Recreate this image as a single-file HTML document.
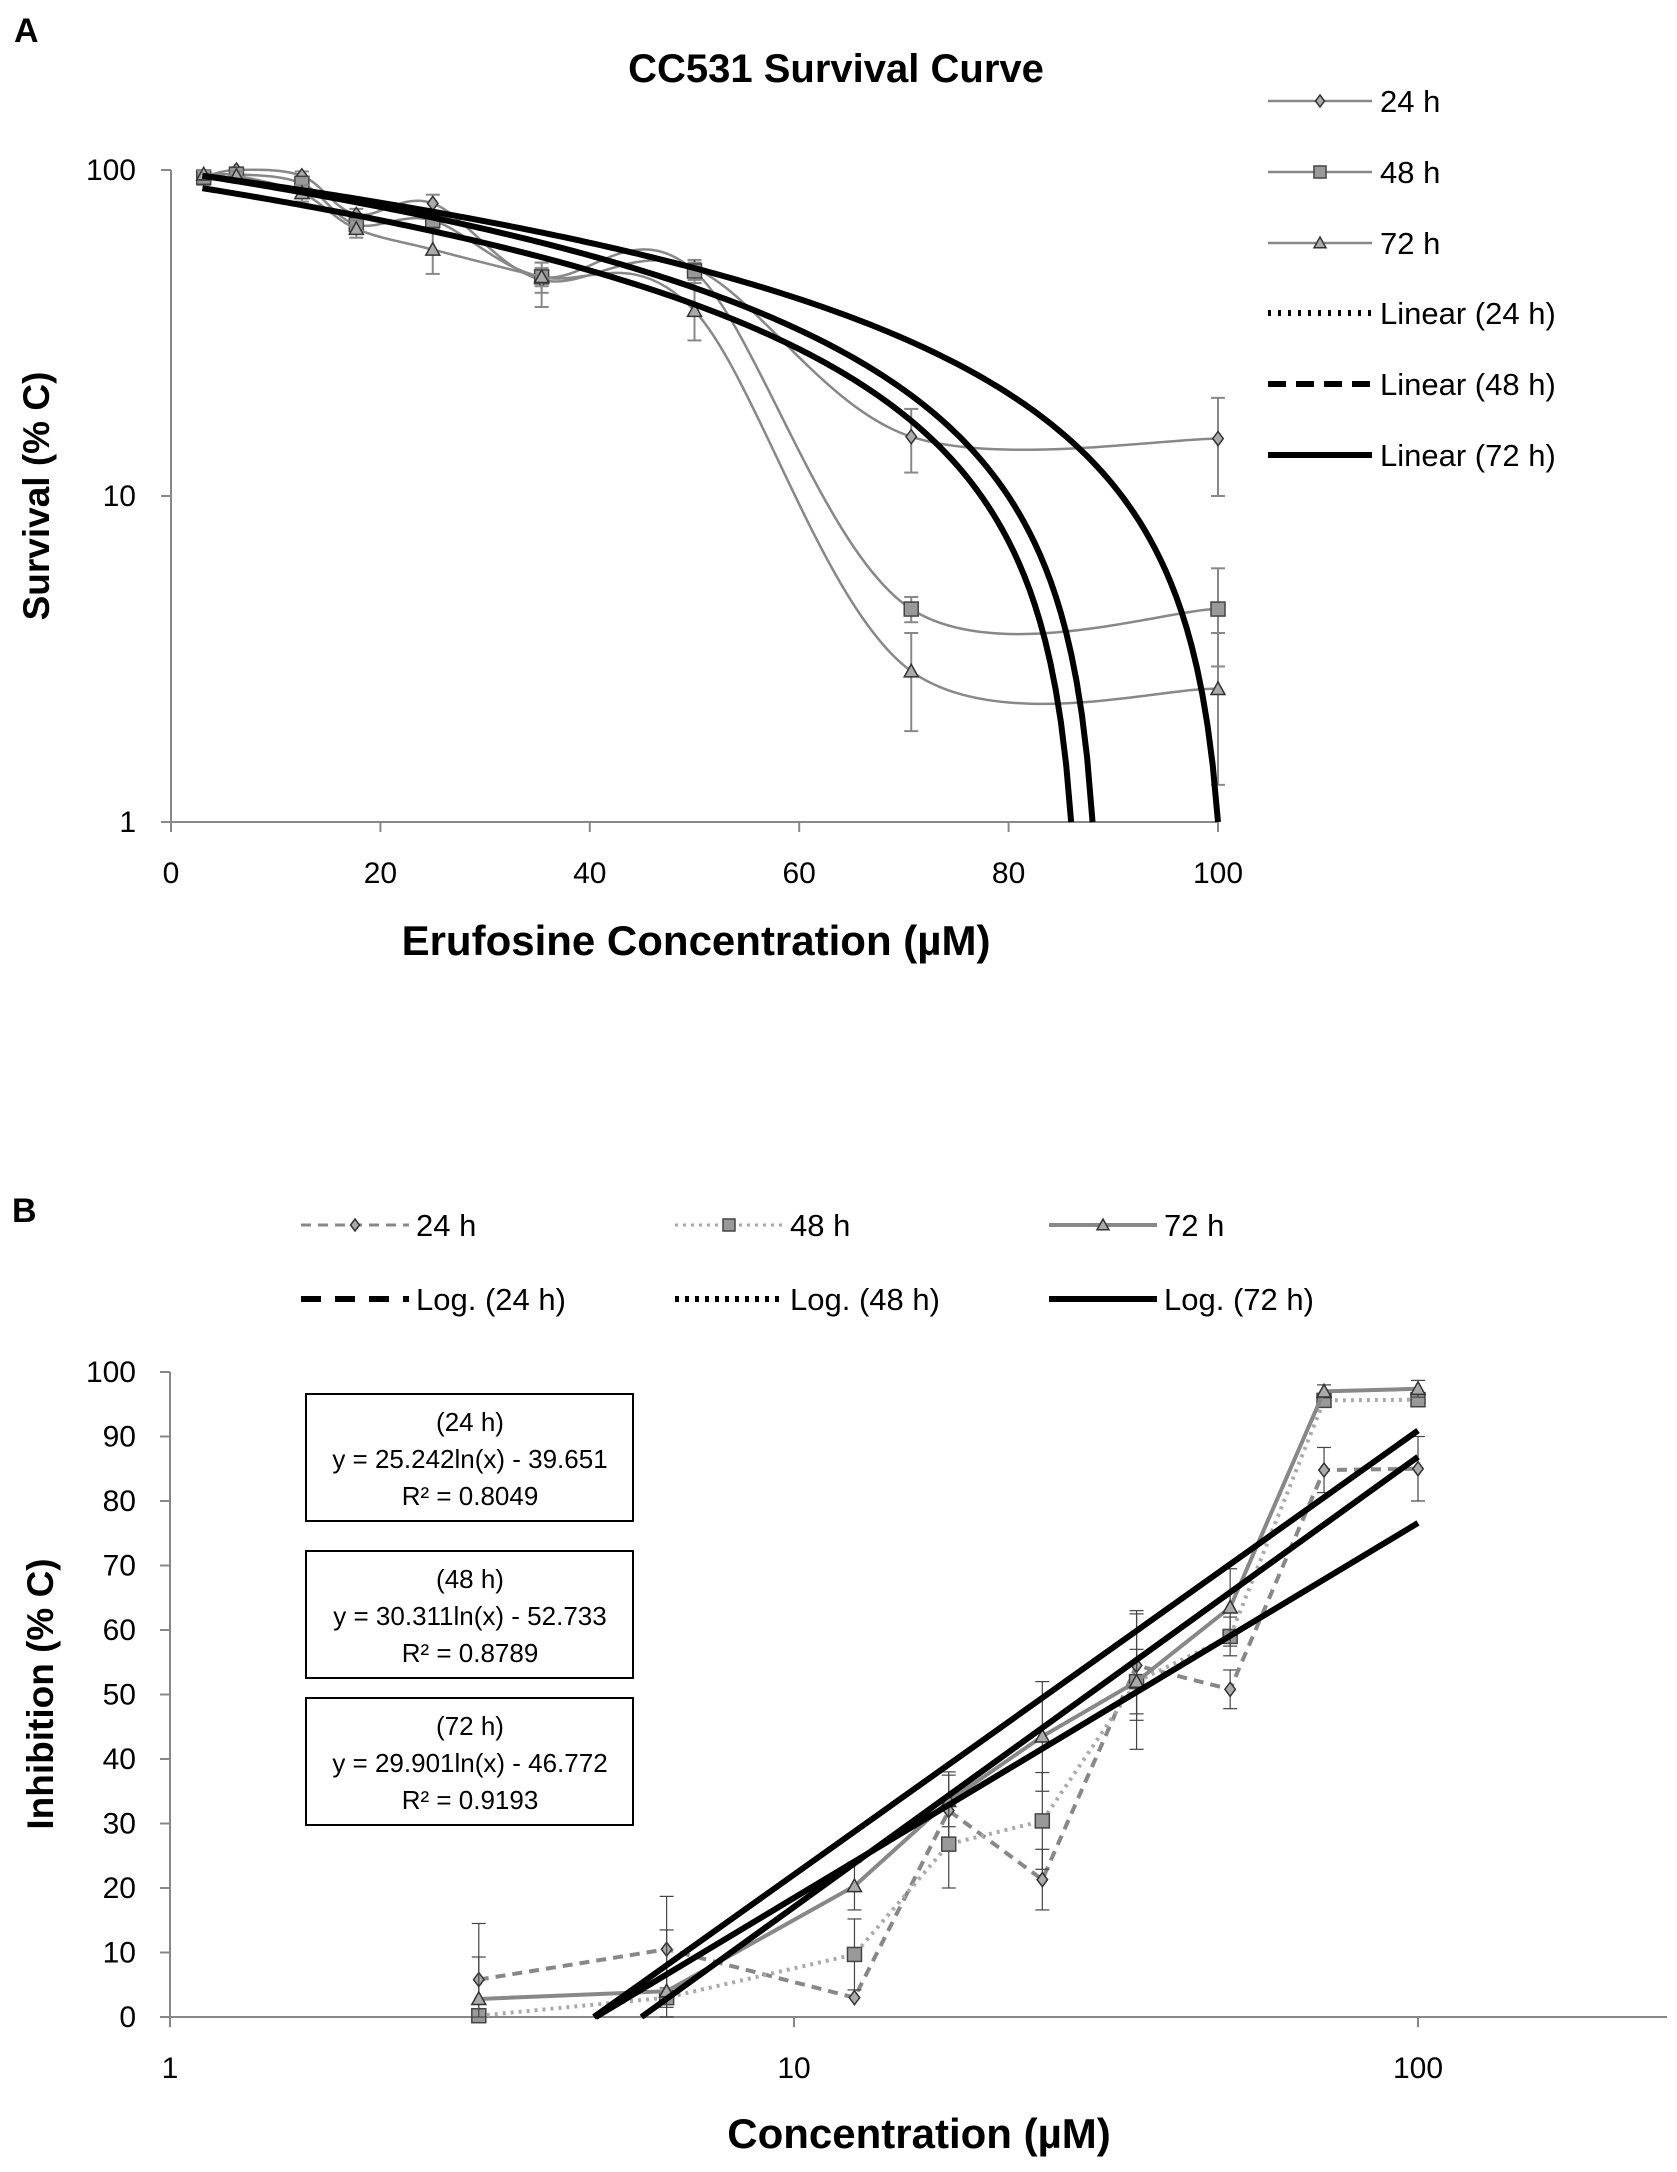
<!DOCTYPE html>
<html><head><meta charset="utf-8"><style>
html,body{margin:0;padding:0;background:#fff;}
svg{display:block;font-family:"Liberation Sans",sans-serif;}
</style></head><body>
<svg id="fig" width="1677" height="2172" viewBox="0 0 1677 2172"></svg>
<script>
// Panel A data
const concA = [3.125, 6.25, 12.5, 17.7, 25, 35.4, 50, 70.7, 100];
const survA24 = [95, 100, 96, 73, 79, 46, 50, 15.2, 15];
const survA48 = [95, 97, 91, 68, 70, 47, 49, 4.5, 4.5];
const survA72 = [97, 96, 85, 66, 57, 47, 37, 2.9, 2.56];
const errLoA24 = [90,97,93,70,74,38,45,11.8,10];
const errHiA24 = [99,102,99,76,84,52,53,18.5,20];
const errLoA48 = [90,94,87,65,66,44,46,4.1,3];
const errHiA48 = [99,100,95,71,75,50,52,4.9,6];
const errLoA72 = [93,93,80,62,48,42,30,1.9,1.3];
const errHiA72 = [100,99,90,70,65,52,45,3.8,3.8];
const fitA = [[91.1,-1.048,86.0],[99.4,-1.118,88.0],[99.0,-0.98,100]]; // intercept, slope, end x
const ticksAX = [0,20,40,60,80,100];
const ticksAY = [1,10,100];
// Panel B data
const concB = [3.125, 6.25, 12.5, 17.7, 25, 35.4, 50, 70.7, 100];
const inhB24 = [5.8, 10.5, 3, 32, 21.3, 54.5, 50.8, 84.8, 85];
const inhB48 = [0.2, 3, 9.7, 26.8, 30.4, 52, 59, 95.6, 95.7];
const inhB72 = [2.8, 4, 20.3, 33.5, 43.5, 52, 63.5, 97, 97.4];
const errB24 = [8.7, 8.2, 0, 6, 4.7, 8.5, 3, 3.5, 5];
const errB48 = [1, 1.5, 5.5, 6.8, 7.5, 5, 3, 1, 1];
const errB72 = [6.5, 9.5, 3.7, 4, 8.5, 10.5, 6, 1, 1.3];
const logCoefB = [[25.242,-39.651],[30.311,-52.733],[29.901,-46.772]];
const ticksBX = [1,10,100];
const ticksBY = [0,10,20,30,40,50,60,70,80,90,100];

const NS="http://www.w3.org/2000/svg";
const svg=document.getElementById('fig');
function el(tag,attrs,parent){const e=document.createElementNS(NS,tag);for(const k in attrs)e.setAttribute(k,attrs[k]);(parent||svg).appendChild(e);return e;}
function txt(s,attrs,parent){const t=el('text',attrs,parent);t.textContent=s;return t;}
const xA=v=>171+v*10.47, yA=v=>822-Math.log10(v)*326;
const xB=v=>170+Math.log10(v)*624, yB=v=>2017-v*6.45;

function smooth(pts){let d='M'+pts[0][0]+','+pts[0][1];for(let i=0;i<pts.length-1;i++){const p0=pts[i-1]||pts[i],p1=pts[i],p2=pts[i+1],p3=pts[i+2]||p2;const c1=[p1[0]+(p2[0]-p0[0])/6,p1[1]+(p2[1]-p0[1])/6],c2=[p2[0]-(p3[0]-p1[0])/6,p2[1]-(p3[1]-p1[1])/6];d+=` C${c1} ${c2} ${p2}`;}return d;}
function marker(type,x,y,g,s){s=s||7;let m;
 if(type==='d')m=el('polygon',{points:`${x},${y-s} ${x+s*0.75},${y} ${x},${y+s} ${x-s*0.75},${y}`,fill:'#aaa',stroke:'#333','stroke-width':1.5},g);
 else if(type==='s')m=el('rect',{x:x-s,y:y-s,width:2*s,height:2*s,fill:'#999',stroke:'#444','stroke-width':1.5},g);
 else m=el('polygon',{points:`${x},${y-s} ${x+s},${y+s*0.8} ${x-s},${y+s*0.8}`,fill:'#aaa',stroke:'#333','stroke-width':1.5},g);
 return m;}

// ---------- Panel A ----------
const gA=el('g',{});


let t=txt('A',{x:14,y:42,'font-size':34,'font-weight':'bold'},gA);

t=txt('CC531 Survival Curve',{x:836,y:82,'font-size':40,'font-weight':'bold','text-anchor':'middle'},gA);

let ax=el('line',{x1:171,y1:170,x2:171,y2:822,stroke:'#888','stroke-width':2},gA);

ax=el('line',{x1:171,y1:822,x2:1218,y2:822,stroke:'#888','stroke-width':2},gA);

ticksAX.forEach(v=>{el('line',{x1:xA(v),y1:822,x2:xA(v),y2:832,stroke:'#888','stroke-width':2},gA);
 const l=txt(v,{x:xA(v),y:883,'font-size':30,'text-anchor':'middle'},gA);
 });
ticksAY.forEach(v=>{el('line',{x1:161,y1:yA(v),x2:171,y2:yA(v),stroke:'#888','stroke-width':2},gA);
 const l=txt(v,{x:136,y:yA(v)+10,'font-size':30,'text-anchor':'end'},gA);
 });
t=txt('Survival (% C)',{x:0,y:0,'font-size':37,'font-weight':'bold','text-anchor':'middle',transform:'translate(49,496) rotate(-90)'},gA);

t=txt('Erufosine Concentration (µM)',{x:696,y:955,'font-size':42,'font-weight':'bold','text-anchor':'middle'},gA);


const seriesA=[[survA24,errLoA24,errHiA24,'d','24h'],[survA48,errLoA48,errHiA48,'s','48h'],[survA72,errLoA72,errHiA72,'t','72h']];
seriesA.forEach(([vals,lo,hi,mk,nm])=>{
 const g=el('g',{},gA);
 
 const pts=concA.map((c,i)=>[xA(c),yA(vals[i])]);
 const p=el('path',{d:smooth(pts),fill:'none',stroke:'#888','stroke-width':2.5},g);
 
 concA.forEach((c,i)=>{const x=xA(c);
  el('line',{x1:x,y1:yA(lo[i]),x2:x,y2:yA(hi[i]),stroke:'#888','stroke-width':2},g);
  el('line',{x1:x-7,y1:yA(lo[i]),x2:x+7,y2:yA(lo[i]),stroke:'#888','stroke-width':2},g);
  el('line',{x1:x-7,y1:yA(hi[i]),x2:x+7,y2:yA(hi[i]),stroke:'#888','stroke-width':2},g);
  const m=marker(mk,x,yA(vals[i]),g);
  });
});
fitA.forEach(([a,b,end],k)=>{
 const pts=[];for(let x=3;x<=end;x+=0.5){const v=a+b*x;if(v<1)break;pts.push([xA(x),yA(v)]);}
 pts.push([xA((1-a)/b),yA(1)]);
 const p=el('path',{d:'M'+pts.map(q=>q.join(',')).join(' L'),fill:'none',stroke:'#000','stroke-width':6},gA);
 
});
// Legend A
const legA=el('g',{},gA);

const labA=['24  h','48  h','72  h','Linear (24  h)','Linear (48  h)','Linear (72  h)'];
[101,172,243,313,384,455].forEach((y,i)=>{
 const g=el('g',{},legA);
 
 if(i<3){el('line',{x1:1268,y1:y,x2:1372,y2:y,stroke:'#888','stroke-width':2.5},g);marker(['d','s','t'][i],1320,y,g,6);}
 else{const da=['3,7','18,10',''][i-3];el('line',{x1:1268,y1:y,x2:1372,y2:y,stroke:'#000','stroke-width':6,'stroke-dasharray':da},g);}
 txt(labA[i],{x:1380,y:y+11,'font-size':31},g);
});

// ---------- Panel B ----------
const gB=el('g',{});

t=txt('B',{x:12,y:1222,'font-size':34,'font-weight':'bold'},gB);

ax=el('line',{x1:170,y1:1372,x2:170,y2:2017,stroke:'#888','stroke-width':2},gB);

ax=el('line',{x1:170,y1:2017,x2:1667,y2:2017,stroke:'#888','stroke-width':2},gB);

ticksBX.forEach(v=>{el('line',{x1:xB(v),y1:2017,x2:xB(v),y2:2027,stroke:'#888','stroke-width':2},gB);
 const l=txt(v,{x:xB(v),y:2078,'font-size':30,'text-anchor':'middle'},gB);
 });
ticksBY.forEach(v=>{el('line',{x1:160,y1:yB(v),x2:170,y2:yB(v),stroke:'#888','stroke-width':2},gB);
 const l=txt(v,{x:136,y:yB(v)+10,'font-size':30,'text-anchor':'end'},gB);
 });
t=txt('Inhibition (% C)',{x:0,y:0,'font-size':37,'font-weight':'bold','text-anchor':'middle',transform:'translate(53,1694) rotate(-90)'},gB);

t=txt('Concentration (µM)',{x:919,y:2148,'font-size':42,'font-weight':'bold','text-anchor':'middle'},gB);


const seriesB=[[inhB24,errB24,'d','24h','10,7','#888'],[inhB48,errB48,'s','48h','3,5','#aaa'],[inhB72,errB72,'t','72h','','#888']];
seriesB.forEach(([vals,er,mk,nm,da,col])=>{
 const g=el('g',{},gB);
 
 concB.forEach((c,i)=>{const x=xB(c);if(!er[i])return;
  const lo=yB(Math.max(0,vals[i]-er[i])),hi=yB(vals[i]+er[i]);
  el('line',{x1:x,y1:lo,x2:x,y2:hi,stroke:'#444','stroke-width':1.2},g);
  el('line',{x1:x-7,y1:lo,x2:x+7,y2:lo,stroke:'#444','stroke-width':1.2},g);
  el('line',{x1:x-7,y1:hi,x2:x+7,y2:hi,stroke:'#444','stroke-width':1.2},g);});
 const p=el('polyline',{points:concB.map((c,i)=>xB(c)+','+yB(vals[i])).join(' '),fill:'none',stroke:col,'stroke-width':4,'stroke-dasharray':da},g);
 
 concB.forEach((c,i)=>{const m=marker(mk,xB(c),yB(vals[i]),g);
  });
});
logCoefB.forEach(([a,b],k)=>{
 const x0=Math.exp(-b/a);
 const p=el('line',{x1:xB(x0),y1:yB(0),x2:xB(100),y2:yB(a*Math.log(100)+b),stroke:'#000','stroke-width':6},gB);
 
});
// Equation boxes
const eqs=[['(24 h)','y = 25.242ln(x) - 39.651','R² = 0.8049',1394],['(48 h)','y = 30.311ln(x) - 52.733','R² = 0.8789',1551],['(72 h)','y = 29.901ln(x) - 46.772','R² = 0.9193',1698]];
eqs.forEach(([a,b,c,y])=>{
 const g=el('g',{},gB);
 
 el('rect',{x:306,y:y,width:327,height:127,fill:'#fff',stroke:'#000','stroke-width':2},g);
 [a,b,c].forEach((s,i)=>txt(s,{x:470,y:y+37+i*37,'font-size':26,'text-anchor':'middle'},g));
});
// Legend B
const legB=el('g',{},gB);

const legBItems=[[301,1225,'24  h','d','10,7','#888',3],[675,1225,'48  h','s','3,5','#aaa',3],[1049,1225,'72  h','t','','#888',4],
 [301,1299,'Log. (24  h)','','20,14','#000',6],[675,1299,'Log. (48  h)','','4,6','#000',6],[1049,1299,'Log. (72  h)','','','#000',6]];
legBItems.forEach(([x,y,lab,mk,da,col,w])=>{
 const g=el('g',{},legB);
 
 el('line',{x1:x,y1:y,x2:x+108,y2:y,stroke:col,'stroke-width':w,'stroke-dasharray':da},g);
 if(mk)marker(mk,x+54,y,g,6);
 txt(lab,{x:x+115,y:y+11,'font-size':31},g);
});
</script>
</body></html>
